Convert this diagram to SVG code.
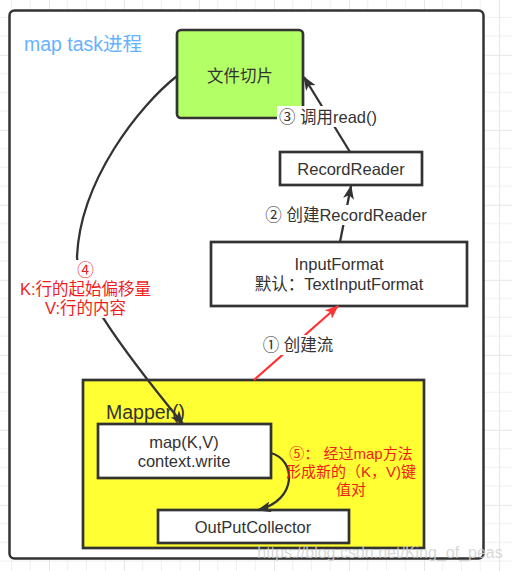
<svg xmlns="http://www.w3.org/2000/svg" width="512" height="571" viewBox="0 0 512 571">
<style>
text{font-family:"Liberation Sans","Noto Sans CJK SC",sans-serif;fill:#333;dominant-baseline:central;text-anchor:middle}
.t16{font-size:16.5px}
.red{fill:#f01c1c}
.box{stroke:#333;stroke-width:2.7}
.line{fill:none;stroke:#333;stroke-width:2.3}
.rline{fill:none;stroke:#ff3333;stroke-width:2.3}
.lbl{fill:#fff}
</style>
<defs>
<pattern id="grid" patternUnits="userSpaceOnUse" x="-26.05" y="-20.2" width="75" height="75">
<rect width="75" height="75" fill="#fff"/>
<path d="M18.75,0V75M37.5,0V75M56.25,0V75M0,18.75H75M0,37.5H75M0,56.25H75" stroke="#f0f0f0" stroke-width="1"/>
<path d="M0.5,0V75M0,0.5H75" stroke="#e6e6e6" stroke-width="1"/>
</pattern>
<marker id="arr" viewBox="0 0 14 11" refX="13" refY="5.5" markerWidth="14" markerHeight="11" markerUnits="userSpaceOnUse" orient="auto">
<path d="M0,0 L14,5.5 L0,11 L3.5,5.5 Z" fill="#333"/>
</marker>
<marker id="rarr" viewBox="0 0 14 11" refX="13" refY="5.5" markerWidth="14" markerHeight="11" markerUnits="userSpaceOnUse" orient="auto">
<path d="M0,0 L14,5.5 L0,11 L3.5,5.5 Z" fill="#ff3333"/>
</marker>
</defs>
<rect width="512" height="571" fill="url(#grid)"/>

<g id="container">
<rect x="9.5" y="10.5" width="474" height="548" rx="5" fill="#fff" stroke="#333" stroke-width="2.5"/>
<text x="24" y="44" style="font-size:19.5px;fill:#66b2ff;text-anchor:start">map task进程</text>
</g>

<g id="wenjianqiepian">
<rect class="box" x="177" y="30" width="126" height="88" rx="4" fill="#b3ff66"/>
<text class="t16" x="240" y="76">文件切片</text>
</g>

<g id="recordreader">
<rect class="box" x="280" y="152" width="142" height="33" fill="#fff"/>
<text class="t16" x="351" y="169">RecordReader</text>
</g>

<g id="inputformat">
<rect class="box" x="211" y="242" width="256" height="64" fill="#fff"/>
<text class="t16" x="339" y="264">InputFormat</text>
<text class="t16" x="339" y="284">默认：TextInputFormat</text>
</g>

<g id="mapper">
<rect class="box" x="83" y="380" width="341" height="168" fill="#ffff33"/>
<text x="106" y="412" style="font-size:19.5px;text-anchor:start">Mapper()</text>
</g>

<g id="mapkv">
<rect class="box" x="98" y="424" width="173" height="54" fill="#fff"/>
<text class="t16" x="184" y="442">map(K,V)</text>
<text class="t16" x="184" y="461">context.write</text>
</g>

<g id="outputcollector">
<rect class="box" x="158" y="510" width="191" height="33" fill="#fff"/>
<text class="t16" x="253" y="527">OutPutCollector</text>
</g>

<g id="connectors">
<path class="line" d="M350,152 L304,77" marker-end="url(#arr)"/>
<rect class="lbl" x="277" y="106" width="102" height="21"/>
<text class="t16" x="328" y="117">③ 调用read()</text>

<path class="line" d="M340,242 L351,186" marker-end="url(#arr)"/>
<rect class="lbl" x="264" y="205" width="164" height="20"/>
<text class="t16" x="346" y="215">② 创建RecordReader</text>

<path class="rline" d="M254,380 L338,306" marker-end="url(#rarr)"/>
<rect class="lbl" x="261" y="335" width="74" height="20"/>
<text class="t16" x="298" y="345">① 创建流</text>

<path class="line" d="M177,76 C140,105 80,180 77,257 C78,285 110,335 183,424" marker-end="url(#arr)"/>
<rect class="lbl" x="21" y="260" width="130" height="58"/>
<text class="t16 red" x="85.5" y="270">④</text>
<text class="t16 red" x="85.5" y="289">K:行的起始偏移量</text>
<text class="t16 red" x="85.5" y="308">V:行的内容</text>

<path class="line" d="M271,453 C296,460 298,500 258,510" marker-end="url(#arr)"/>
<text class="red" x="351" y="453" style="font-size:15px">⑤： 经过map方法</text>
<text class="red" x="351" y="471" style="font-size:15px">形成新的（K，V)键</text>
<text class="red" x="351" y="489" style="font-size:15px">值对</text>
</g>

<text x="380" y="552" style="font-size:16px;fill:#d0d0d0;fill-opacity:0.85">https://blog.csdn.net/King_of_peas</text>
</svg>
